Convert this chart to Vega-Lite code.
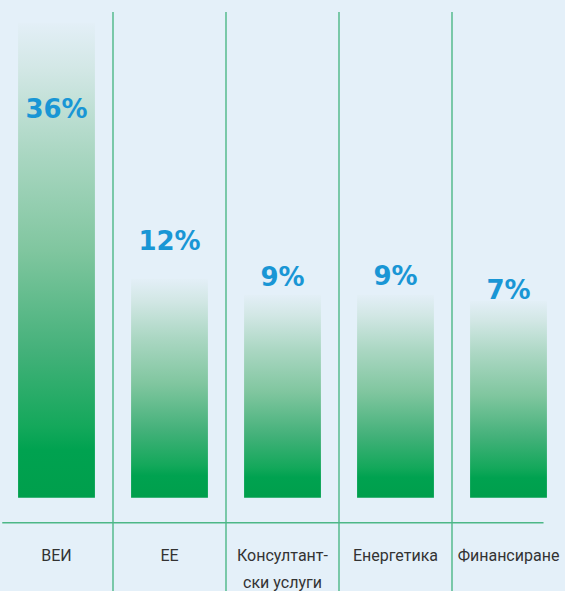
{
  "$schema": "https://vega.github.io/schema/vega-lite/v6.json",
  "width": 565,
  "height": 591,
  "padding": 0,
  "autosize": {"type": "none"},
  "background": "#e4f0f9",
  "config": {"view": {"stroke": null}},
  "data": {
    "values": [
      {"cat": "ВЕИ", "pct": "36%", "len": 475, "labelY": 388, "name": ["ВЕИ"]},
      {"cat": "ЕЕ", "pct": "12%", "len": 219, "labelY": 256, "name": ["ЕЕ"]},
      {"cat": "Консултантски услуги", "pct": "9%", "len": 203, "labelY": 220, "name": ["Консултант-", "ски услуги"]},
      {"cat": "Енергетика", "pct": "9%", "len": 203, "labelY": 221, "name": ["Енергетика"]},
      {"cat": "Финансиране", "pct": "7%", "len": 197, "labelY": 207, "name": ["Финансиране"]}
    ]
  },
  "layer": [
    {
      "layer": [
        {
          "mark": {
            "type": "bar",
            "color": {
              "gradient": "linear",
              "x1": 0, "y1": 0, "x2": 0, "y2": 1,
              "stops": [
                {"offset": 0, "color": "#e3eff7"},
                {"offset": 0.1, "color": "#d2e7e5"},
                {"offset": 0.27, "color": "#abd7c3"},
                {"offset": 0.48, "color": "#80c69f"},
                {"offset": 0.69, "color": "#44b17a"},
                {"offset": 0.85, "color": "#14a85b"},
                {"offset": 0.9, "color": "#00a250"},
                {"offset": 1, "color": "#009f4c"}
              ]
            }
          },
          "encoding": {
            "x": {
              "field": "cat", "type": "nominal",
              "scale": {"domain": ["ВЕИ", "ЕЕ", "Консултантски услуги", "Енергетика", "Финансиране"], "paddingInner": 0.32, "paddingOuter": 0.16},
              "axis": null
            },
            "y": {
              "field": "len", "type": "quantitative",
              "scale": {"domain": [-93.3, 497.7], "nice": false, "zero": false},
              "axis": null
            },
            "y2": {"datum": 0}
          }
        },
        {
          "mark": {"type": "text", "font": "DejaVu Sans", "fontWeight": 900, "fontSize": 26, "color": "#1996d5", "baseline": "middle", "align": "center"},
          "encoding": {
            "x": {"field": "cat", "type": "nominal"},
            "y": {"field": "labelY", "type": "quantitative"},
            "text": {"field": "pct"}
          }
        },
        {
          "mark": {"type": "text", "font": "Roboto", "fontSize": 16, "color": "#333333", "baseline": "alphabetic", "align": "center", "lineHeight": 27},
          "encoding": {
            "x": {"field": "cat", "type": "nominal"},
            "y": {"datum": -63.3, "type": "quantitative"},
            "text": {"field": "name"}
          }
        }
      ]
    },
    {
      "layer": [
        {
          "transform": [{"filter": "datum.cat !== 'ВЕИ'"}],
          "mark": {"type": "rule", "color": "#4cb787", "strokeWidth": 1.4},
          "encoding": {
            "x": {
              "field": "cat", "type": "nominal", "bandPosition": 0,
              "scale": {"domain": ["ВЕИ", "ЕЕ", "Консултантски услуги", "Енергетика", "Финансиране"], "paddingInner": 0, "paddingOuter": 0},
              "axis": null
            },
            "y": {"datum": 485.7, "type": "quantitative"},
            "y2": {"datum": -93.3}
          }
        },
        {
          "data": {"values": [{}]},
          "mark": {"type": "rule", "color": "#4cb787", "strokeWidth": 1.4},
          "encoding": {
            "x": {"datum": "ВЕИ", "type": "nominal", "bandPosition": 0.02},
            "x2": {"datum": "Финансиране", "bandPosition": 0.81},
            "y": {"datum": -25, "type": "quantitative"}
          }
        }
      ]
    }
  ],
  "resolve": {"scale": {"x": "independent"}}
}
